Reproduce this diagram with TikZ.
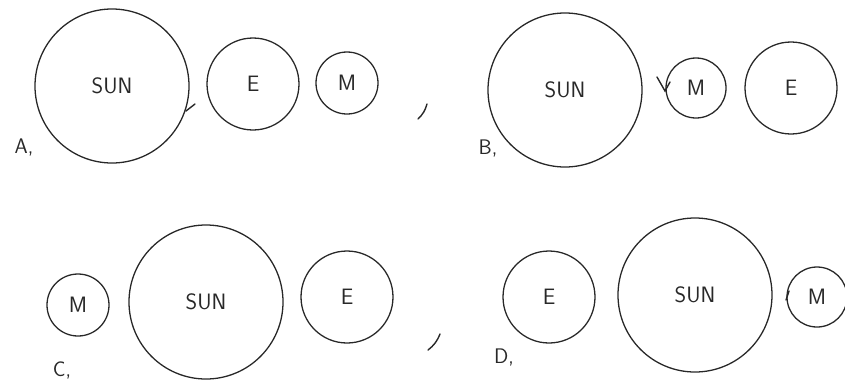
\documentclass[tikz,border=0pt]{standalone}
\usepackage{tikz}
\definecolor{pen}{RGB}{40,40,40}

\begin{document}
\begin{tikzpicture}[x=0.03cm,y=-0.03cm,
  body/.style={draw=pen,line width=1.1pt},
  stroke/.style={draw=pen,line width=1.2pt,line cap=round},
  word/.style={font=\fontsize{19}{22}\sffamily,text=pen},
  tag/.style={font=\fontsize{18}{20}\sffamily,text=pen}]
\useasboundingbox (0,0) rectangle (845,383);
% A
\coordinate (sunA) at (112,86);
\coordinate (earA) at (253,84);
\coordinate (monA) at (347,83);
\draw[body] (sunA) circle [radius=77];
\draw[body] (earA) circle [radius=46];
\draw[body] (monA) circle [radius=31];
\node[word] (sunAtxt) at (sunA) {SUN};
\node[word] (earAtxt) at (earA) {E};
\node[word] (monAtxt) at (monA) {M};
\node[tag] (labA) at (24,147) {A,};
\draw[stroke] (186,111) -- (195,104);
\draw[stroke] (418,119) to[bend right=15] (427,104);
% B
\coordinate (sunB) at (565,90);
\coordinate (monB) at (696,88);
\coordinate (earB) at (791,88);
\draw[body] (sunB) circle [radius=77];
\draw[body] (monB) circle [radius=30];
\draw[body] (earB) circle [radius=46];
\node[word] (sunBtxt) at (sunB) {SUN};
\node[word] (monBtxt) at (monB) {M};
\node[word] (earBtxt) at (earB) {E};
\node[tag] (labB) at (488,148) {B,};
\draw[stroke] (657,77) -- (665,91) -- (670,82);
% C
\coordinate (monC) at (78,305);
\coordinate (sunC) at (206,302);
\coordinate (earC) at (347,297);
\draw[body] (monC) circle [radius=31];
\draw[body] (sunC) circle [radius=77];
\draw[body] (earC) circle [radius=46];
\node[word] (monCtxt) at (monC) {M};
\node[word] (sunCtxt) at (sunC) {SUN};
\node[word] (earCtxt) at (earC) {E};
\node[tag] (labC) at (62,370) {C,};
\draw[stroke] (428,350) to[bend right=15] (440,334);
% D
\coordinate (earD) at (549,297);
\coordinate (sunD) at (695,295);
\coordinate (monD) at (817,297);
\draw[body] (earD) circle [radius=46];
\draw[body] (sunD) circle [radius=77];
\draw[body] (monD) circle [radius=30];
\node[word] (earDtxt) at (earD) {E};
\node[word] (sunDtxt) at (sunD) {SUN};
\node[word] (monDtxt) at (monD) {M};
\node[tag] (labD) at (504,357) {D,};
\draw[stroke] (786,300) -- (789,291);
\end{tikzpicture}
\end{document}
